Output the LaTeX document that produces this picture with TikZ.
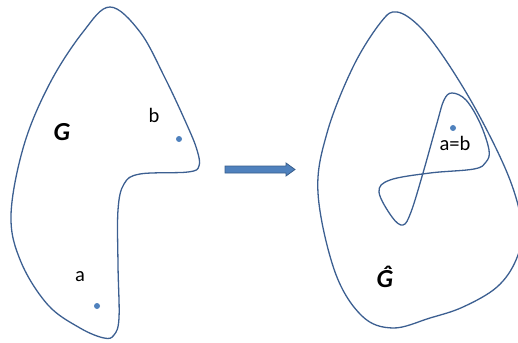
\documentclass[tikz,border=0pt]{standalone}
\usepackage{fontspec}
\setmainfont{Carlito}
\usetikzlibrary{calc}
\definecolor{lineblue}{RGB}{60,95,145}
\definecolor{arrowfill}{RGB}{79,129,189}
\definecolor{arrowedge}{RGB}{56,93,138}

\begin{document}
\begin{tikzpicture}[x=1pt,y=-1pt,
  blob/.style={draw=lineblue,line width=1.3pt,fill=none},
  pt/.style={circle,fill=arrowfill,inner sep=0pt,minimum size=6pt},
  lbl/.style={font=\fontsize{20.5}{22}\selectfont,inner sep=0pt},
  gname/.style={font=\fontsize{26}{28}\selectfont\bfseries\itshape,inner sep=0pt}]
  \useasboundingbox (0,0) rectangle (518,342);
  \clip (0,0) rectangle (518,342);
  % original graph
  \draw[blob] plot[smooth cycle,tension=0.6] coordinates {
    (110,7) (140,32) (165,78) (187,125) (197,150) (199,166) (188,172) (140,174)
    (124,184) (118,210) (118,265) (119,318) (114,335) (104,338) (80,328)
    (48,305) (21,262) (11,215) (24,145) (50,83) (83,32)};
  \node[gname] (g) at (62,132) {G};
  \node[lbl] (b) at (154,115) {b};
  \node[pt] (pb) at (179,139) {};
  \node[lbl] (a) at (80,277) {a};
  \node[pt] (pa) at (97,306) {};
  % block arrow
  \draw[arrowedge,fill=arrowfill,line width=0.8pt]
    (225,166) -- (286,166) -- (286,163) -- (295,169.5) -- (286,176)
    -- (286,173) -- (225,173) -- cycle;
  % identified graph
  \draw[blob] plot[smooth cycle,tension=0.6] coordinates {
    (397,12) (420,27) (447,62) (480,117) (510,180) (522,228) (516,260)
    (497,287) (463,307) (430,318) (393,328) (362,316) (335,272) (318,193)
    (327,133) (353,67) (381,22)};
  \draw[blob] plot[smooth cycle,tension=0.6] coordinates {
    (452,93) (466,100) (480,123) (489,150) (486,162) (474,169) (430,173)
    (390,180) (379,192) (392,217) (403,225) (411,212) (423,173) (437,123)
    (444,100)};
  \node[pt] (pab) at (453,128) {};
  \node[lbl] (ab) at (455,143) {a=b};
  \node[gname] (gh) at (385,277) {Ĝ};
\end{tikzpicture}
\end{document}
